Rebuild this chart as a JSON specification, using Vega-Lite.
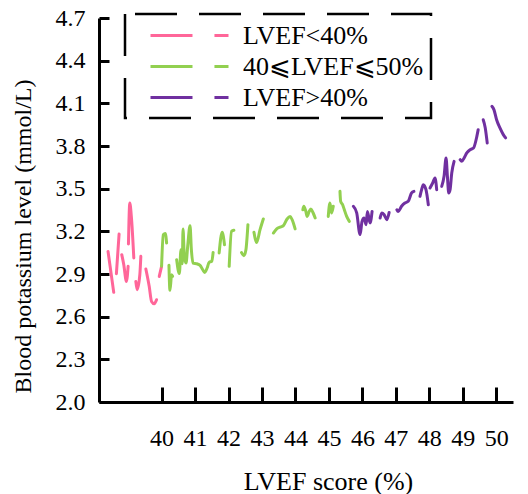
{
  "$schema": "https://vega.github.io/schema/vega-lite/v6.json",
  "width": 414,
  "height": 384,
  "autosize": "none",
  "padding": {"left": 99, "top": 18, "right": 15, "bottom": 92},
  "config": {
    "font": "Liberation Serif",
    "axis": {"labelFont": "Liberation Serif", "titleFont": "Liberation Serif"},
    "legend": {"labelFont": "Liberation Serif", "titleFont": "Liberation Serif"},
    "view": {"stroke": null}
  },
  "data": {"values": [
    {"g":"LVEF<40%","s":1,"x":38.40,"y":3.059},{"g":"LVEF<40%","s":1,"x":38.57,"y":2.771},
    {"g":"LVEF<40%","s":2,"x":38.65,"y":2.902},{"g":"LVEF<40%","s":2,"x":38.73,"y":3.181},
    {"g":"LVEF<40%","s":3,"x":38.81,"y":3.036},{"g":"LVEF<40%","s":3,"x":38.87,"y":2.966},{"g":"LVEF<40%","s":3,"x":38.95,"y":2.848},{"g":"LVEF<40%","s":3,"x":39.00,"y":2.954},
    {"g":"LVEF<40%","s":4,"x":39.01,"y":3.111},{"g":"LVEF<40%","s":4,"x":39.05,"y":3.399},{"g":"LVEF<40%","s":4,"x":39.10,"y":3.294},{"g":"LVEF<40%","s":4,"x":39.17,"y":3.013},
    {"g":"LVEF<40%","s":5,"x":39.23,"y":2.848},{"g":"LVEF<40%","s":5,"x":39.27,"y":2.790},{"g":"LVEF<40%","s":5,"x":39.35,"y":2.895},{"g":"LVEF<40%","s":5,"x":39.38,"y":3.024},
    {"g":"LVEF<40%","s":6,"x":39.53,"y":2.935},{"g":"LVEF<40%","s":6,"x":39.63,"y":2.813},{"g":"LVEF<40%","s":6,"x":39.70,"y":2.707},{"g":"LVEF<40%","s":6,"x":39.78,"y":2.691},{"g":"LVEF<40%","s":6,"x":39.85,"y":2.719},
    {"g":"LVEF<40%","s":7,"x":39.93,"y":2.883},{"g":"LVEF<40%","s":7,"x":40.00,"y":2.954},
    {"g":"40⩽LVEF⩽50%","s":8,"x":40.00,"y":2.954},{"g":"40⩽LVEF⩽50%","s":8,"x":40.05,"y":3.176},{"g":"40⩽LVEF⩽50%","s":8,"x":40.11,"y":3.184},{"g":"40⩽LVEF⩽50%","s":8,"x":40.15,"y":3.118},
    {"g":"40⩽LVEF⩽50%","s":9,"x":40.22,"y":2.961},{"g":"40⩽LVEF⩽50%","s":9,"x":40.25,"y":2.785},{"g":"40⩽LVEF⩽50%","s":9,"x":40.30,"y":2.895},{"g":"40⩽LVEF⩽50%","s":9,"x":40.33,"y":2.883},
    {"g":"40⩽LVEF⩽50%","s":10,"x":40.45,"y":3.001},{"g":"40⩽LVEF⩽50%","s":10,"x":40.53,"y":2.903},{"g":"40⩽LVEF⩽50%","s":10,"x":40.58,"y":3.071},{"g":"40⩽LVEF⩽50%","s":10,"x":40.62,"y":2.972},{"g":"40⩽LVEF⩽50%","s":10,"x":40.64,"y":3.216},{"g":"40⩽LVEF⩽50%","s":10,"x":40.68,"y":3.024},{"g":"40⩽LVEF⩽50%","s":10,"x":40.73,"y":2.977},{"g":"40⩽LVEF⩽50%","s":10,"x":40.78,"y":3.095},{"g":"40⩽LVEF⩽50%","s":10,"x":40.85,"y":3.240},{"g":"40⩽LVEF⩽50%","s":10,"x":40.89,"y":3.071},{"g":"40⩽LVEF⩽50%","s":10,"x":40.94,"y":2.977},{"g":"40⩽LVEF⩽50%","s":10,"x":41.05,"y":2.972},{"g":"40⩽LVEF⩽50%","s":10,"x":41.15,"y":2.961},{"g":"40⩽LVEF⩽50%","s":10,"x":41.23,"y":2.930},{"g":"40⩽LVEF⩽50%","s":10,"x":41.29,"y":2.911},{"g":"40⩽LVEF⩽50%","s":10,"x":41.36,"y":2.942},{"g":"40⩽LVEF⩽50%","s":10,"x":41.42,"y":2.982},{"g":"40⩽LVEF⩽50%","s":10,"x":41.50,"y":2.989},{"g":"40⩽LVEF⩽50%","s":10,"x":41.54,"y":3.052},
    {"g":"40⩽LVEF⩽50%","s":11,"x":41.72,"y":3.048},{"g":"40⩽LVEF⩽50%","s":11,"x":41.81,"y":3.193},{"g":"40⩽LVEF⩽50%","s":11,"x":41.88,"y":3.106},
    {"g":"40⩽LVEF⩽50%","s":12,"x":42.02,"y":2.954},{"g":"40⩽LVEF⩽50%","s":12,"x":42.09,"y":3.200},{"g":"40⩽LVEF⩽50%","s":12,"x":42.16,"y":3.207},
    {"g":"40⩽LVEF⩽50%","s":13,"x":42.39,"y":3.050},{"g":"40⩽LVEF⩽50%","s":13,"x":42.46,"y":3.029},{"g":"40⩽LVEF⩽50%","s":13,"x":42.52,"y":3.071},{"g":"40⩽LVEF⩽50%","s":13,"x":42.58,"y":3.247},
    {"g":"40⩽LVEF⩽50%","s":14,"x":42.76,"y":3.193},{"g":"40⩽LVEF⩽50%","s":14,"x":42.84,"y":3.122},{"g":"40⩽LVEF⩽50%","s":14,"x":42.94,"y":3.210},{"g":"40⩽LVEF⩽50%","s":14,"x":43.04,"y":3.287},
    {"g":"40⩽LVEF⩽50%","s":15,"x":43.34,"y":3.188},{"g":"40⩽LVEF⩽50%","s":15,"x":43.44,"y":3.217},{"g":"40⩽LVEF⩽50%","s":15,"x":43.56,"y":3.231},{"g":"40⩽LVEF⩽50%","s":15,"x":43.64,"y":3.240},{"g":"40⩽LVEF⩽50%","s":15,"x":43.75,"y":3.287},{"g":"40⩽LVEF⩽50%","s":15,"x":43.84,"y":3.305},{"g":"40⩽LVEF⩽50%","s":15,"x":43.90,"y":3.282},{"g":"40⩽LVEF⩽50%","s":15,"x":43.99,"y":3.217},
    {"g":"40⩽LVEF⩽50%","s":16,"x":44.22,"y":3.352},{"g":"40⩽LVEF⩽50%","s":16,"x":44.25,"y":3.376},{"g":"40⩽LVEF⩽50%","s":16,"x":44.31,"y":3.340},{"g":"40⩽LVEF⩽50%","s":16,"x":44.35,"y":3.305},{"g":"40⩽LVEF⩽50%","s":16,"x":44.41,"y":3.340},{"g":"40⩽LVEF⩽50%","s":16,"x":44.46,"y":3.357},{"g":"40⩽LVEF⩽50%","s":16,"x":44.53,"y":3.329},{"g":"40⩽LVEF⩽50%","s":16,"x":44.59,"y":3.294},
    {"g":"40⩽LVEF⩽50%","s":17,"x":44.98,"y":3.305},{"g":"40⩽LVEF⩽50%","s":17,"x":45.03,"y":3.399},{"g":"40⩽LVEF⩽50%","s":17,"x":45.08,"y":3.329},{"g":"40⩽LVEF⩽50%","s":17,"x":45.13,"y":3.376},
    {"g":"40⩽LVEF⩽50%","s":18,"x":45.33,"y":3.481},{"g":"40⩽LVEF⩽50%","s":18,"x":45.35,"y":3.411},{"g":"40⩽LVEF⩽50%","s":18,"x":45.41,"y":3.387},{"g":"40⩽LVEF⩽50%","s":18,"x":45.46,"y":3.352},{"g":"40⩽LVEF⩽50%","s":18,"x":45.53,"y":3.305},{"g":"40⩽LVEF⩽50%","s":18,"x":45.61,"y":3.270},
    {"g":"LVEF>40%","s":19,"x":45.73,"y":3.376},{"g":"LVEF>40%","s":19,"x":45.83,"y":3.329},{"g":"LVEF>40%","s":19,"x":45.93,"y":3.177},{"g":"LVEF>40%","s":19,"x":45.99,"y":3.270},{"g":"LVEF>40%","s":19,"x":46.05,"y":3.294},{"g":"LVEF>40%","s":19,"x":46.11,"y":3.247},{"g":"LVEF>40%","s":19,"x":46.15,"y":3.340},{"g":"LVEF>40%","s":19,"x":46.23,"y":3.259},{"g":"LVEF>40%","s":19,"x":46.29,"y":3.340},
    {"g":"LVEF>40%","s":20,"x":46.53,"y":3.294},{"g":"LVEF>40%","s":20,"x":46.58,"y":3.329},{"g":"LVEF>40%","s":20,"x":46.65,"y":3.317},{"g":"LVEF>40%","s":20,"x":46.73,"y":3.282},{"g":"LVEF>40%","s":20,"x":46.80,"y":3.333},
    {"g":"LVEF>40%","s":21,"x":47.03,"y":3.352},{"g":"LVEF>40%","s":21,"x":47.07,"y":3.340},{"g":"LVEF>40%","s":21,"x":47.17,"y":3.376},{"g":"LVEF>40%","s":21,"x":47.27,"y":3.399},{"g":"LVEF>40%","s":21,"x":47.37,"y":3.411},{"g":"LVEF>40%","s":21,"x":47.47,"y":3.470},{"g":"LVEF>40%","s":21,"x":47.54,"y":3.481},
    {"g":"LVEF>40%","s":22,"x":47.72,"y":3.446},{"g":"LVEF>40%","s":22,"x":47.77,"y":3.493},{"g":"LVEF>40%","s":22,"x":47.82,"y":3.528},{"g":"LVEF>40%","s":22,"x":47.90,"y":3.493},{"g":"LVEF>40%","s":22,"x":47.97,"y":3.387},
    {"g":"LVEF>40%","s":23,"x":48.02,"y":3.505},{"g":"LVEF>40%","s":23,"x":48.10,"y":3.540},{"g":"LVEF>40%","s":23,"x":48.17,"y":3.575},{"g":"LVEF>40%","s":23,"x":48.22,"y":3.493},
    {"g":"LVEF>40%","s":24,"x":48.37,"y":3.516},{"g":"LVEF>40%","s":24,"x":48.44,"y":3.587},{"g":"LVEF>40%","s":24,"x":48.50,"y":3.716},{"g":"LVEF>40%","s":24,"x":48.54,"y":3.587},{"g":"LVEF>40%","s":24,"x":48.58,"y":3.470},{"g":"LVEF>40%","s":24,"x":48.62,"y":3.493},{"g":"LVEF>40%","s":24,"x":48.67,"y":3.610},{"g":"LVEF>40%","s":24,"x":48.74,"y":3.692},
    {"g":"LVEF>40%","s":25,"x":48.92,"y":3.704},{"g":"LVEF>40%","s":25,"x":48.97,"y":3.692},{"g":"LVEF>40%","s":25,"x":49.04,"y":3.716},{"g":"LVEF>40%","s":25,"x":49.12,"y":3.751},{"g":"LVEF>40%","s":25,"x":49.22,"y":3.774},{"g":"LVEF>40%","s":25,"x":49.32,"y":3.786},{"g":"LVEF>40%","s":25,"x":49.42,"y":3.868},{"g":"LVEF>40%","s":25,"x":49.46,"y":3.915},
    {"g":"LVEF>40%","s":26,"x":49.61,"y":3.985},{"g":"LVEF>40%","s":26,"x":49.67,"y":3.929},{"g":"LVEF>40%","s":26,"x":49.73,"y":3.821},
    {"g":"LVEF>40%","s":27,"x":49.87,"y":4.079},{"g":"LVEF>40%","s":27,"x":49.93,"y":4.056},{"g":"LVEF>40%","s":27,"x":50.01,"y":3.985},{"g":"LVEF>40%","s":27,"x":50.11,"y":3.927},{"g":"LVEF>40%","s":27,"x":50.21,"y":3.880},{"g":"LVEF>40%","s":27,"x":50.28,"y":3.857}
  ]},
  "mark": {"type": "line", "strokeWidth": 3, "strokeCap": "round", "strokeJoin": "round", "interpolate": "monotone"},
  "encoding": {
    "x": {
      "field": "x", "type": "quantitative",
      "scale": {"domain": [38.13, 50.5], "nice": false, "zero": false},
      "axis": {
        "values": [40, 41, 42, 43, 44, 45, 46, 47, 48, 49, 50],
        "grid": false, "domainColor": "black", "domainWidth": 3,
        "tickColor": "black", "tickWidth": 3, "tickSize": -15,
        "labelFont": "Liberation Serif", "labelFontSize": 24, "labelColor": "black", "labelPadding": 39,
        "title": "LVEF score (%)", "titleFont": "Liberation Serif", "titleFontSize": 26, "titleFontWeight": "normal", "titleColor": "black",
        "titleX": 229, "titleY": 87, "titleBaseline": "alphabetic"
      }
    },
    "y": {
      "field": "y", "type": "quantitative",
      "scale": {"domain": [2.0, 4.7], "nice": false, "zero": false},
      "axis": {
        "values": [2.0, 2.3, 2.6, 2.9, 3.2, 3.5, 3.8, 4.1, 4.4, 4.7],
        "format": ".1f",
        "grid": false, "domainColor": "black", "domainWidth": 3,
        "tickColor": "black", "tickWidth": 3, "tickSize": -10,
        "labelFont": "Liberation Serif", "labelFontSize": 24, "labelColor": "black", "labelPadding": 24,
        "title": "Blood potassium level (mmol/L)", "titleFont": "Liberation Serif", "titleFontSize": 24, "titleFontWeight": "normal", "titleColor": "black",
        "titleX": -64, "titleY": 218, "titleBaseline": "bottom"
      }
    },
    "color": {
      "field": "g", "type": "nominal",
      "scale": {"domain": ["LVEF<40%", "40⩽LVEF⩽50%", "LVEF>40%"], "range": ["#ff6699", "#92d050", "#7030a0"]},
      "legend": {
        "title": null, "orient": "none", "legendX": 26, "legendY": -4,
        "labelFontSize": 26, "labelColor": "black", "labelFont": "Liberation Serif", "labelLimit": 400,
        "symbolType": "M-1,0H2.23M3.92,0H5", "symbolSize": 676, "symbolStrokeWidth": 3,
        "symbolFillColor": "transparent", "symbolOffset": 17,
        "labelOffset": 65, "rowPadding": 3,
        "padding": 7, "strokeColor": "black",
        "encoding": {
          "legend": {"strokeDash": {"value": [42, 22]}, "strokeDashOffset": {"value": 54}, "strokeWidth": {"value": 2.5}},
          "entries": {"width": {"value": 321}, "fill": {"value": "transparent"}}
        }
      }
    },
    "detail": {"field": "s", "type": "nominal"}
  }
}
